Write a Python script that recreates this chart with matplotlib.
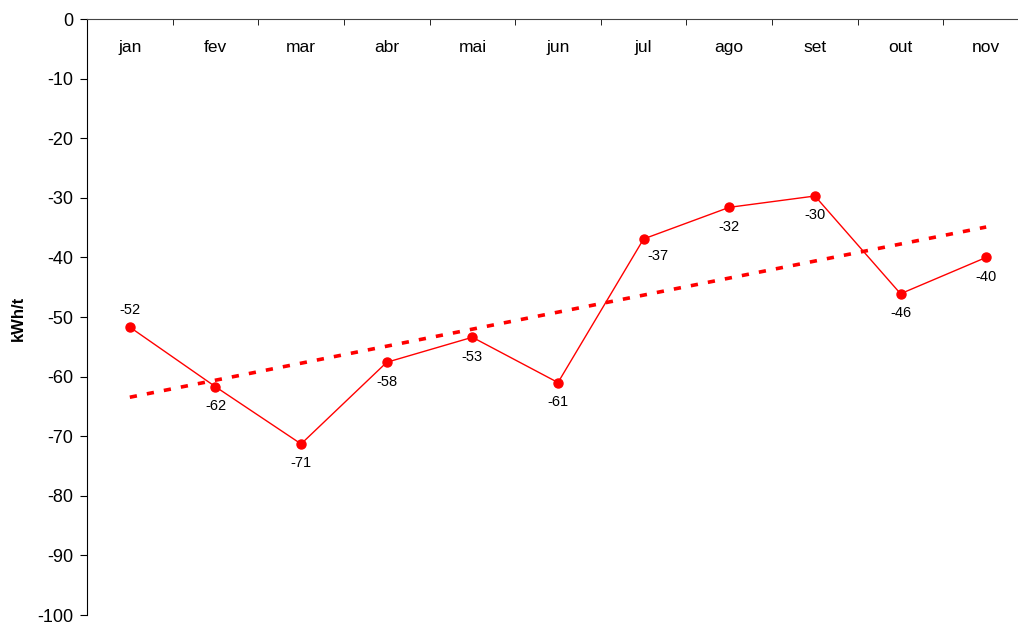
import matplotlib
matplotlib.use('AGG')
import matplotlib.pyplot as plt
import numpy as np

plt.rcParams['font.family'] = ['Liberation Sans', 'DejaVu Sans']

months = ['jan', 'fev', 'mar', 'abr', 'mai', 'jun', 'jul', 'ago', 'set', 'out', 'nov']
values = [-51.7, -61.7, -71.3, -57.6, -53.4, -61.0, -36.9, -31.6, -29.7, -46.1, -40.0]
yticks = list(range(-100, 1, 10))

fig = plt.figure(figsize=(10.18, 6.25), dpi=100)
# axes goes a bit past the right edge, like the original (nov box is cut)
ax = fig.add_axes([87 / 1018, 10 / 625, 942 / 1018, 596 / 625])

x = np.arange(len(months))
ax.plot(x, values, color='#ff0000', lw=1.0, marker='o', markersize=6.5, zorder=3)

# linear trend line
slope, inter = np.polyfit(x, values, 1)
ax.plot(x, slope * x + inter, color='#ff0000', lw=2.6,
        linestyle=(0, (2.0, 2.8)), dash_capstyle='butt', zorder=2)

# data labels
for i, v in enumerate(values):
    if i == 0:
        off = (0, 12)
    elif months[i] == 'jul':
        off = (10, -12)
    else:
        off = (0, -14)
    ax.annotate(f'{v:.0f}', (i, v), xytext=off, textcoords='offset points',
                ha='center', va='center', fontsize=10.5)

ax.set_xlim(-0.5, len(months) - 0.5)
ax.set_ylim(-100, 0)
ax.set_yticks(yticks)
ax.set_yticklabels([str(t) for t in yticks], fontsize=13)

ax.set_xticks(x)
ax.set_xticklabels(months, fontsize=12.5)
ax.set_xticks(np.arange(-0.5, len(months), 1.0), minor=True)
ax.tick_params(axis='x', which='major', top=True, bottom=False, labeltop=True,
               labelbottom=False, length=0, pad=-26)
ax.tick_params(axis='x', which='minor', top=True, bottom=False, direction='in', length=4)
ax.tick_params(axis='y', which='major', direction='out', length=5, pad=5)

ax.spines['bottom'].set_visible(False)
ax.spines['right'].set_visible(False)
ax.spines['top'].set_color('#444444')

fig.text(18 / 1018, 1 - 318 / 625, 'kWh/t', rotation=90, ha='center', va='center',
         fontsize=12, fontweight='bold')

fig.savefig('out.png', dpi=100)
